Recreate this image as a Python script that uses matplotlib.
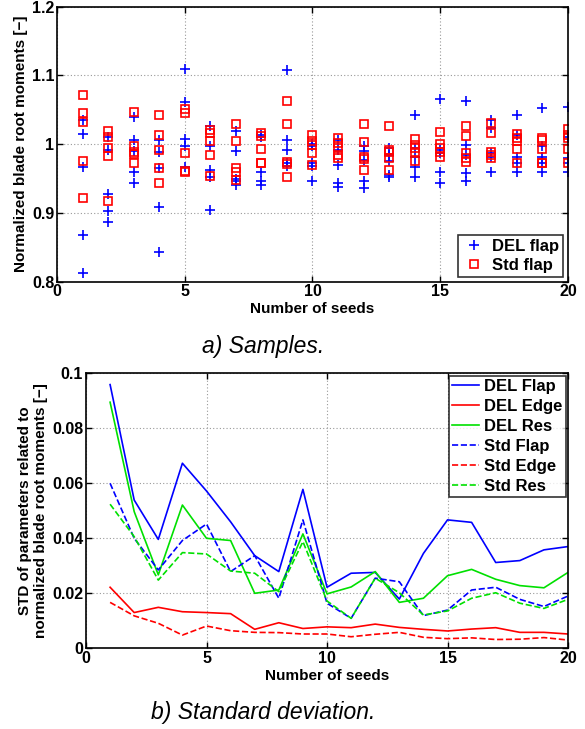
import numpy as np
import matplotlib
matplotlib.use('Agg')
import matplotlib.pyplot as plt

plt.rcParams['font.family'] = ['Liberation Sans', 'DejaVu Sans']

seeds = np.arange(1, 21)

# a) samples: 5 values per number of seeds
del_flap = [
    [1.035, 1.015, 0.967, 0.868, 0.812],
    [1.011, 0.992, 0.928, 0.903, 0.887],
    [1.039, 1.006, 0.990, 0.959, 0.944],
    [1.006, 0.989, 0.965, 0.908, 0.843],
    [1.110, 1.062, 1.007, 0.998, 0.967],
    [1.026, 0.997, 0.963, 0.952, 0.904],
    [1.019, 0.990, 0.950, 0.946, 0.941],
    [1.014, 1.010, 0.960, 0.946, 0.941],
    [1.108, 1.006, 0.991, 0.972, 0.969],
    [1.001, 0.998, 0.972, 0.969, 0.946],
    [1.006, 0.992, 0.970, 0.944, 0.938],
    [0.997, 0.990, 0.977, 0.946, 0.937],
    [0.994, 0.984, 0.975, 0.955, 0.953],
    [1.043, 0.994, 0.982, 0.967, 0.953],
    [1.066, 0.992, 0.987, 0.960, 0.944],
    [1.063, 0.999, 0.984, 0.958, 0.946],
    [1.035, 1.023, 0.987, 0.982, 0.960],
    [1.042, 1.014, 0.982, 0.972, 0.960],
    [1.053, 0.997, 0.982, 0.972, 0.960],
    [1.054, 1.011, 0.980, 0.972, 0.960],
]
std_flap = [
    [1.072, 1.046, 1.033, 0.976, 0.922],
    [1.019, 1.011, 0.995, 0.983, 0.917],
    [1.047, 0.998, 0.989, 0.986, 0.973],
    [1.042, 1.014, 0.992, 0.965, 0.943],
    [1.051, 1.046, 0.987, 0.961, 0.959],
    [1.020, 1.017, 1.004, 0.985, 0.954],
    [1.030, 1.004, 0.966, 0.960, 0.948],
    [1.017, 1.012, 0.993, 0.973, 0.972],
    [1.063, 1.030, 0.974, 0.971, 0.952],
    [1.013, 1.004, 0.999, 0.987, 0.970],
    [1.009, 1.002, 0.994, 0.984, 0.980],
    [1.029, 1.003, 0.982, 0.979, 0.963],
    [1.027, 0.992, 0.988, 0.980, 0.963],
    [1.007, 0.999, 0.994, 0.989, 0.975],
    [1.018, 1.000, 0.994, 0.989, 0.981],
    [1.026, 1.012, 0.987, 0.980, 0.974],
    [1.031, 1.016, 0.988, 0.984, 0.980],
    [1.015, 1.009, 1.004, 0.993, 0.972],
    [1.009, 1.006, 0.993, 0.972, 0.973],
    [1.022, 1.014, 1.009, 0.993, 0.972],
]

# b) standard deviation
std_del_flap = [0.0959, 0.0539, 0.0396, 0.0673, 0.0572, 0.0460, 0.0337, 0.0279, 0.0578, 0.0222,
                0.0273, 0.0276, 0.0179, 0.0345, 0.0467, 0.0458, 0.0312, 0.0319, 0.0358, 0.0370]
std_del_edge = [0.0222, 0.0130, 0.0149, 0.0133, 0.0130, 0.0126, 0.0069, 0.0093, 0.0072, 0.0078,
                0.0075, 0.0088, 0.0076, 0.0069, 0.0063, 0.0070, 0.0075, 0.0058, 0.0058, 0.0052]
std_del_res = [0.0895, 0.0497, 0.0267, 0.0521, 0.0400, 0.0392, 0.0200, 0.0212, 0.0416, 0.0198,
               0.0223, 0.0279, 0.0167, 0.0182, 0.0264, 0.0287, 0.0251, 0.0228, 0.0220, 0.0276]
std_std_flap = [0.0600, 0.0400, 0.0285, 0.0392, 0.0452, 0.0279, 0.0337, 0.0182, 0.0467, 0.0164,
                0.0109, 0.0255, 0.0242, 0.0119, 0.0139, 0.0212, 0.0222, 0.0178, 0.0152, 0.0190]
std_std_edge = [0.0167, 0.0118, 0.0091, 0.0048, 0.0081, 0.0064, 0.0058, 0.0057, 0.0052, 0.0052,
                0.0042, 0.0051, 0.0058, 0.0040, 0.0035, 0.0038, 0.0032, 0.0033, 0.0039, 0.0030]
std_std_res = [0.0524, 0.0406, 0.0248, 0.0348, 0.0343, 0.0281, 0.0273, 0.0206, 0.0388, 0.0172,
               0.0109, 0.0255, 0.0202, 0.0121, 0.0136, 0.0182, 0.0202, 0.0164, 0.0145, 0.0178]

fig = plt.figure(figsize=(5.85, 7.29), dpi=100)
ax1 = fig.add_axes([0.0974, 0.6136, 0.8735, 0.3772])
ax2 = fig.add_axes([0.147, 0.1107, 0.824, 0.3772])


def style(ax):
    ax.grid(True, color='#999999', linestyle=(0, (1, 2)), linewidth=0.8)
    ax.set_axisbelow(True)
    ax.tick_params(direction='in', top=True, right=True, length=4, width=1, labelsize=11.5, pad=2)
    for lab in ax.get_xticklabels() + ax.get_yticklabels():
        lab.set_fontweight('bold')
    for s in ax.spines.values():
        s.set_linewidth(1.2)


xs = np.repeat(seeds, 5)
ax1.plot(xs, np.ravel(del_flap), '+', color='blue', ms=7, mew=1.2, label='DEL flap')
ax1.plot(xs, np.ravel(std_flap), 's', color='red', mfc='none', ms=6, mew=1.2, label='Std flap')
ax1.set_xlim(0, 20)
ax1.set_ylim(0.8, 1.2)
ax1.set_xticks([0, 5, 10, 15, 20])
ax1.set_yticks([0.8, 0.9, 1.0, 1.1, 1.2])
ax1.set_yticklabels(['0.8', '0.9', '1', '1.1', '1.2'])
style(ax1)
ax1.set_xlabel('Number of seeds', fontweight='bold', fontsize=11, labelpad=2)
ax1.set_ylabel('Normalized blade root moments [−]', fontweight='bold', fontsize=11, labelpad=3)
leg1 = ax1.legend(loc='lower right', fancybox=False, edgecolor='black',
                  prop={'weight': 'bold', 'size': 12}, borderaxespad=0.3, handletextpad=0.3,
                  borderpad=0.25, labelspacing=0.2, handlelength=1.5)
leg1.get_frame().set_linewidth(1.2)

ax2.plot(seeds, std_del_flap, '-', color='blue', lw=1.2, label='DEL Flap')
ax2.plot(seeds, std_del_edge, '-', color='red', lw=1.2, label='DEL Edge')
ax2.plot(seeds, std_del_res, '-', color='#00e000', lw=1.2, label='DEL Res')
ax2.plot(seeds, std_std_flap, '--', color='blue', lw=1.2, label='Std Flap')
ax2.plot(seeds, std_std_edge, '--', color='red', lw=1.2, label='Std Edge')
ax2.plot(seeds, std_std_res, '--', color='#00e000', lw=1.2, label='Std Res')
ax2.set_xlim(0, 20)
ax2.set_ylim(0, 0.1)
ax2.set_xticks([0, 5, 10, 15, 20])
ax2.set_yticks([0, 0.02, 0.04, 0.06, 0.08, 0.1])
ax2.set_yticklabels(['0', '0.02', '0.04', '0.06', '0.08', '0.1'])
style(ax2)
ax2.set_xlabel('Number of seeds', fontweight='bold', fontsize=11, labelpad=2)
ax2.set_ylabel('STD of parameters related to\nnormalized blade root moments [−]',
               fontweight='bold', fontsize=11, labelpad=3)
leg2 = ax2.legend(loc='upper right', fancybox=False, edgecolor='black',
                  prop={'weight': 'bold', 'size': 12}, borderaxespad=0.15, handletextpad=0.3,
                  borderpad=0.2, labelspacing=0.3, handlelength=1.6)
leg2.get_frame().set_linewidth(1.2)

fig.text(263 / 585, 1 - 347 / 729, 'a) Samples.', ha='center', va='center', fontsize=16.5,
         style='italic')
fig.text(263 / 585, 1 - 712 / 729, 'b) Standard deviation.', ha='center', va='center',
         fontsize=16.5, style='italic')

fig.savefig('out.png', dpi=100)
